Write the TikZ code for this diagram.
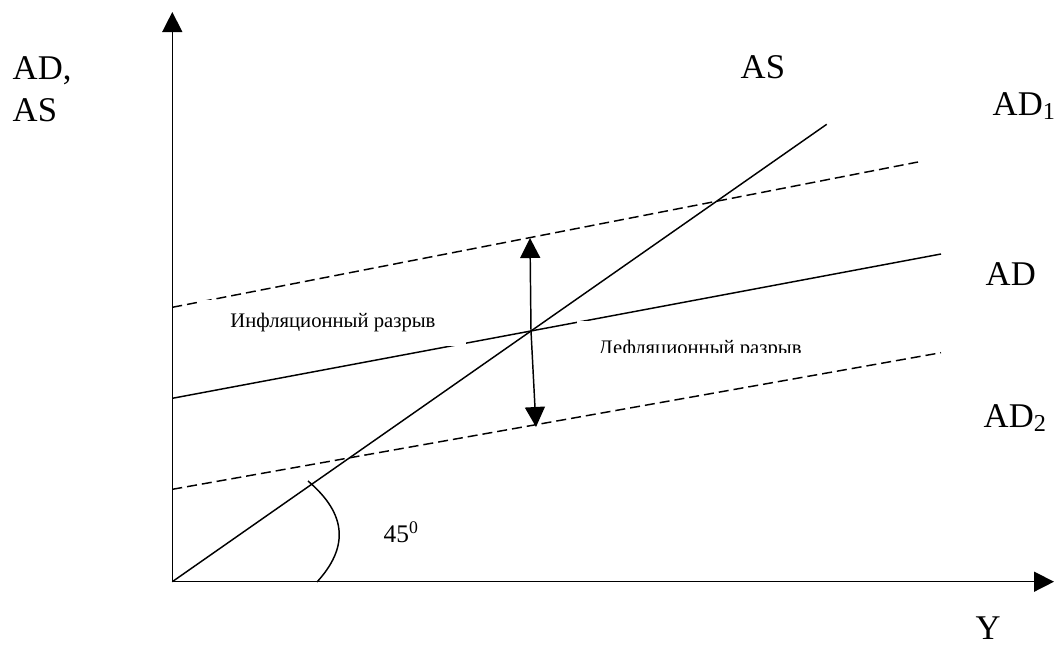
\documentclass[tikz,border=0pt]{standalone}
\usepackage{fontspec}
\setmainfont{Liberation Serif}
\usetikzlibrary{arrows.meta}

\begin{document}
\begin{tikzpicture}[x=0.75pt,y=-0.75pt,line width=1.1pt,
  big/.style={font=\fontsize{26}{31}\selectfont,inner sep=0pt},
  small/.style={font=\fontsize{15.5}{18}\selectfont,inner sep=0pt},
  shifted/.style={dash pattern=on 7.5pt off 3.75pt},
  tip/.style={-{Triangle[length=15pt,width=15pt]}}]
  \useasboundingbox (0,0) rectangle (1057,647);
  % axes
  \coordinate (O) at (172.3,581.7);
  \coordinate (ytop) at (172.3,12);
  \coordinate (xend) at (1054,581.7);
  \draw[tip] (O) -- (ytop);
  \draw[tip] (O) -- (xend);
  % AS and the three AD lines
  \coordinate (ASend) at (826.7,124.3);
  \coordinate (ADstart) at (172.3,398.3);
  \coordinate (ADend) at (941,254);
  \coordinate (ADonestart) at (172.3,307.3);
  \coordinate (ADoneend) at (918,162);
  \coordinate (ADtwostart) at (172.3,489.3);
  \coordinate (ADtwoend) at (941,352.7);
  \draw (O) -- (ASend);
  \draw (ADstart) -- (ADend);
  \draw[shifted] (ADonestart) -- (ADoneend);
  \draw[shifted] (ADtwostart) -- (ADtwoend);
  % 45 degree mark
  \coordinate (arcA) at (308,481);
  \coordinate (arcB) at (317,582);
  \draw (arcA) .. controls (348,515) and (348,548) .. (arcB);
  % gap labels
  \node[small,fill=white,minimum width=200pt,minimum height=34.5pt] (infl) at (333,323) {Инфляционный разрыв};
  \fill[white] (577,321) rectangle (826,352);
  \begin{scope}
    \clip (577,321) rectangle (826,352);
    \node[small,anchor=base west] (defl) at (598,354) {Дефляционный разрыв};
  \end{scope}
  % gaps
  \coordinate (E) at (531,331);
  \coordinate (up) at (530,238);
  \coordinate (dn) at (536,427);
  \draw[tip] (E) -- (up);
  \draw[tip] (E) -- (dn);
  % labels
  \node[big,anchor=base west,align=left] (ylab) at (12,121) {AD,\\AS};
  \node[big,anchor=base west] (ASlab) at (740,78) {AS};
  \node[big,anchor=base west] (ADonelab) at (992,115) {AD\textsubscript{1}};
  \node[big,anchor=base west] (ADlab) at (985,285) {AD};
  \node[big,anchor=base west] (ADtwolab) at (983,427) {AD\textsubscript{2}};
  \node[big,anchor=base west] (xlab) at (975,639) {Y};
  \node[font=\fontsize{19}{22}\selectfont,inner sep=0pt,anchor=base west] (anglab) at (383,542) {45\textsuperscript{0}};
\end{tikzpicture}
\end{document}
